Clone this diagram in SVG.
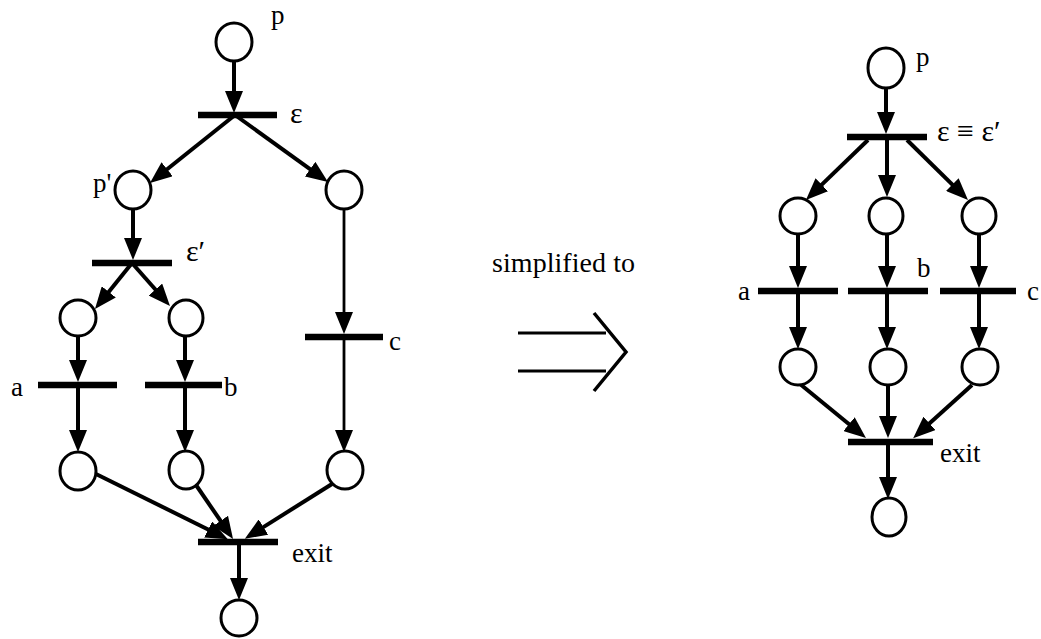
<svg xmlns="http://www.w3.org/2000/svg" width="1041" height="639" viewBox="0 0 1041 639">
<style>
.pl{fill:#fff;stroke:#000;stroke-width:3}
.tr{stroke:#000;stroke-width:6.5}
.cn{stroke:#000;stroke-width:4;fill:none}
.thin{stroke-width:2.8}
.lb{font-family:"Liberation Serif","Times New Roman",serif;font-size:27px;fill:#000}
.ep{font-size:30px}
</style>
<defs>
<marker id="ah" markerUnits="userSpaceOnUse" viewBox="0 0 22 18" markerWidth="22" markerHeight="18" refX="14" refY="9" orient="auto">
<path d="M0,0 L22,9 L0,18 z" fill="#000"/>
</marker>
</defs>
<rect width="1041" height="639" fill="#fff"/>

<g id="connectors" marker-end="url(#ah)">
<!-- left -->
<line class="cn" x1="234" y1="61" x2="234" y2="105"/>
<line class="cn" x1="235" y1="115" x2="156.2" y2="178"/>
<line class="cn" x1="235" y1="115" x2="321.5" y2="177.3"/>
<line class="cn" x1="133" y1="209" x2="133" y2="252"/>
<line class="cn" x1="132" y1="263" x2="100" y2="302.8"/>
<line class="cn" x1="132" y1="263" x2="164.7" y2="300"/>
<line class="cn" x1="78" y1="336" x2="78" y2="374"/>
<line class="cn" x1="78" y1="388" x2="78" y2="444"/>
<line class="cn" x1="185" y1="336" x2="185" y2="374"/>
<line class="cn" x1="185" y1="388" x2="185" y2="444"/>
<line class="cn thin" x1="344" y1="208" x2="344" y2="326"/>
<line class="cn thin" x1="344" y1="340" x2="344" y2="444"/>
<line class="cn" x1="96" y1="474" x2="220.7" y2="535.7"/>
<line class="cn" x1="196" y1="485" x2="228.5" y2="532.4"/>
<line class="cn" x1="332" y1="484" x2="251.6" y2="534.5"/>
<line class="cn" x1="239" y1="544" x2="239" y2="592"/>
<!-- right -->
<line class="cn" x1="886" y1="88" x2="886" y2="126"/>
<line class="cn" x1="868" y1="140" x2="811.7" y2="194.4"/>
<line class="cn" x1="887" y1="140" x2="887" y2="189"/>
<line class="cn" x1="907" y1="140" x2="962.3" y2="194.4"/>
<line class="cn" x1="798" y1="234" x2="798" y2="280"/>
<line class="cn" x1="887" y1="234" x2="887" y2="280"/>
<line class="cn" x1="979" y1="234" x2="979" y2="280"/>
<line class="cn" x1="798" y1="294" x2="798" y2="341"/>
<line class="cn" x1="887" y1="294" x2="887" y2="341"/>
<line class="cn" x1="979" y1="294" x2="979" y2="341"/>
<line class="cn" x1="800" y1="384" x2="859.8" y2="433"/>
<line class="cn" x1="888" y1="385" x2="888" y2="430"/>
<line class="cn" x1="972" y1="385" x2="919.1" y2="432.8"/>
<line class="cn" x1="888" y1="445" x2="888" y2="491"/>
</g>

<!-- left net -->
<g id="L_p"><ellipse class="pl" cx="234" cy="42" rx="18" ry="19"/><text class="lb" x="271" y="24">p</text></g>
<g id="L_eps"><line class="tr" x1="198" y1="115" x2="277" y2="115"/><text class="lb ep" x="290" y="123">ε</text></g>
<g id="L_pprime"><ellipse class="pl" cx="133" cy="190" rx="18" ry="19"/><text class="lb" x="93" y="192">p'</text></g>
<g id="L_right1"><ellipse class="pl" cx="344" cy="190" rx="18" ry="19"/></g>
<g id="L_epsprime"><line class="tr" x1="92" y1="263" x2="172" y2="263"/><text class="lb ep" x="186" y="261">ε′</text></g>
<g id="L_mid1"><ellipse class="pl" cx="78" cy="318" rx="18" ry="18"/></g>
<g id="L_mid2"><ellipse class="pl" cx="186" cy="318" rx="17" ry="18"/></g>
<g id="L_a"><line class="tr" x1="38" y1="385" x2="117" y2="385"/><text class="lb" x="23" y="396" text-anchor="end">a</text></g>
<g id="L_b"><line class="tr" x1="145" y1="385" x2="222" y2="385"/><text class="lb" x="224" y="396">b</text></g>
<g id="L_c"><line class="tr" x1="305" y1="337" x2="383" y2="337"/><text class="lb" x="389" y="350">c</text></g>
<g id="L_bot1"><ellipse class="pl" cx="78" cy="471" rx="18" ry="19"/></g>
<g id="L_bot2"><ellipse class="pl" cx="186" cy="470" rx="17" ry="19"/></g>
<g id="L_bot3"><ellipse class="pl" cx="345" cy="470" rx="18" ry="19"/></g>
<g id="L_exit"><line class="tr" x1="198" y1="542" x2="278" y2="542"/><text class="lb" x="292" y="562">exit</text></g>
<g id="L_end"><ellipse class="pl" cx="239" cy="618" rx="18" ry="18"/></g>

<!-- middle -->
<g id="simplified">
<text class="lb" x="492" y="272" style="font-size:28px" textLength="143">simplified to</text>
<line x1="518" y1="333" x2="606" y2="333" stroke="#000" stroke-width="3"/>
<line x1="518" y1="371" x2="606" y2="371" stroke="#000" stroke-width="3"/>
<polyline points="594,313 626,352 594,391" fill="none" stroke="#000" stroke-width="3.5"/>
</g>

<!-- right net -->
<g id="R_p"><ellipse class="pl" cx="886" cy="68" rx="18" ry="20"/><text class="lb" x="916" y="66">p</text></g>
<g id="R_eps"><line class="tr" x1="847" y1="137" x2="927" y2="137"/><text class="lb ep" x="937" y="141">ε ≡ ε′</text></g>
<g id="R_m1"><ellipse class="pl" cx="798" cy="216" rx="18" ry="18"/></g>
<g id="R_m2"><ellipse class="pl" cx="886" cy="216" rx="17" ry="18"/></g>
<g id="R_m3"><ellipse class="pl" cx="979" cy="216" rx="17" ry="18"/></g>
<g id="R_a"><line class="tr" x1="758" y1="291" x2="838" y2="291"/><text class="lb" x="750" y="300" text-anchor="end">a</text></g>
<g id="R_b"><line class="tr" x1="848" y1="291" x2="928" y2="291"/><text class="lb" x="917" y="277">b</text></g>
<g id="R_c"><line class="tr" x1="940" y1="291" x2="1016" y2="291"/><text class="lb" x="1027" y="300">c</text></g>
<g id="R_b1"><ellipse class="pl" cx="798" cy="367" rx="18" ry="18"/></g>
<g id="R_b2"><ellipse class="pl" cx="888" cy="367" rx="18" ry="18"/></g>
<g id="R_b3"><ellipse class="pl" cx="980" cy="367" rx="18" ry="18"/></g>
<g id="R_exit"><line class="tr" x1="848" y1="442" x2="933" y2="442"/><text class="lb" x="940" y="462">exit</text></g>
<g id="R_end"><ellipse class="pl" cx="889" cy="517" rx="17" ry="19"/></g>
</svg>
